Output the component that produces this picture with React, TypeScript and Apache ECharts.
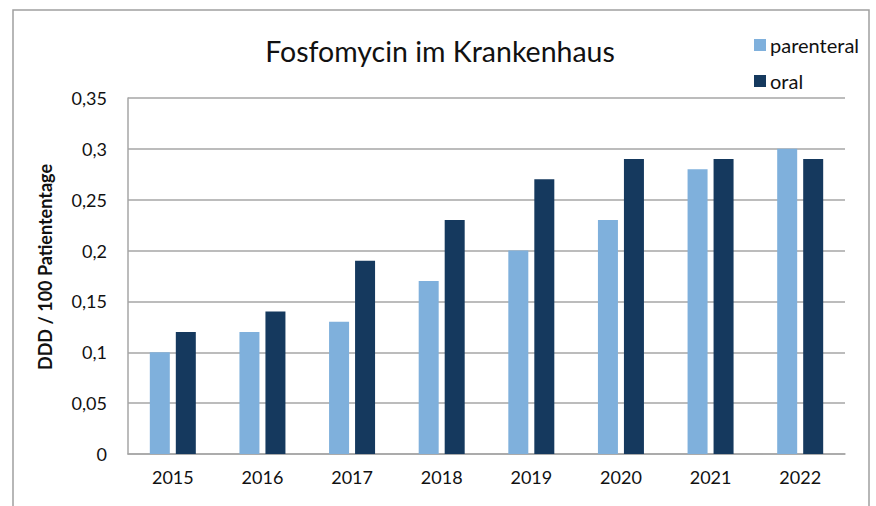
import React, { useEffect, useRef } from "react";
import * as echarts from "echarts";

const years = ["2015", "2016", "2017", "2018", "2019", "2020", "2021", "2022"];
const parenteral = [0.1, 0.12, 0.13, 0.17, 0.2, 0.23, 0.28, 0.3];
const oral = [0.12, 0.14, 0.19, 0.23, 0.27, 0.29, 0.29, 0.29];
const yTickLabels = ["0", "0,05", "0,1", "0,15", "0,2", "0,25", "0,3", "0,35"];

const FONT = "Lato, 'Open Sans', sans-serif";

export default function App() {
  const ref = useRef<HTMLDivElement>(null);
  useEffect(() => {
    if (!ref.current) return;
    const chart = echarts.init(ref.current, null, { renderer: "svg" });
    chart.setOption({
      animation: false,
      backgroundColor: "#ffffff",
      title: {
        text: "Fosfomycin im Krankenhaus",
        left: 435,
        textAlign: "center",
        top: 31,
        textStyle: { fontFamily: FONT, fontSize: 28.5, fontWeight: "normal", color: "#111111" },
      },
      legend: {
        orient: "vertical",
        left: 749,
        top: 30,
        icon: "rect",
        itemWidth: 12,
        itemHeight: 12,
        itemGap: 16,
        textStyle: { fontFamily: FONT, fontSize: 20, color: "#111111", padding: [0, 0, 0, -1] },
        data: ["parenteral", "oral"],
      },
      graphic: [
        {
          type: "rect",
          shape: { x: 13, y: 10, width: 856, height: 520 },
          style: { fill: "none", stroke: "#a0a0a0", lineWidth: 1.5 },
          silent: true,
        },
      ],
      grid: { left: 128, right: 31, top: 98, bottom: 52 },
      xAxis: {
        type: "category",
        data: years,
        axisLine: { show: true, lineStyle: { color: "#a6a6a6", width: 1.5 } },
        axisTick: { show: false },
        axisLabel: { fontFamily: FONT, fontSize: 18, color: "#111111", margin: 14 },
      },
      yAxis: {
        type: "value",
        min: 0,
        max: 0.35,
        interval: 0.05,
        name: "DDD / 100 Patiententage",
        nameLocation: "middle",
        nameGap: 74,
        nameTextStyle: { fontFamily: FONT, fontSize: 18, fontWeight: "bold", color: "#111111", padding: [0, 0, 0, 18] },
        axisLine: { show: true, lineStyle: { color: "#a6a6a6", width: 1.5 } },
        axisTick: { show: false },
        splitLine: { show: true, lineStyle: { color: "#a6a6a6", width: 1.5 } },
        axisLabel: {
          fontFamily: FONT,
          fontSize: 18,
          color: "#111111",
          margin: 21,
          formatter: (v: number) => yTickLabels[Math.round(v / 0.05)] ?? "",
        },
      },
      series: [
        {
          name: "parenteral",
          type: "bar",
          data: parenteral,
          barWidth: 20,
          barGap: "30%",
          itemStyle: { color: "#7fb0dc" },
        },
        {
          name: "oral",
          type: "bar",
          data: oral,
          barWidth: 20,
          barGap: "30%",
          itemStyle: { color: "#15395e" },
        },
      ],
    });
    return () => chart.dispose();
  }, []);
  return (
    <div
      ref={ref}
      style={{ position: "fixed", left: 0, top: 0, width: 876, height: 506 }}
    />
  );
}
